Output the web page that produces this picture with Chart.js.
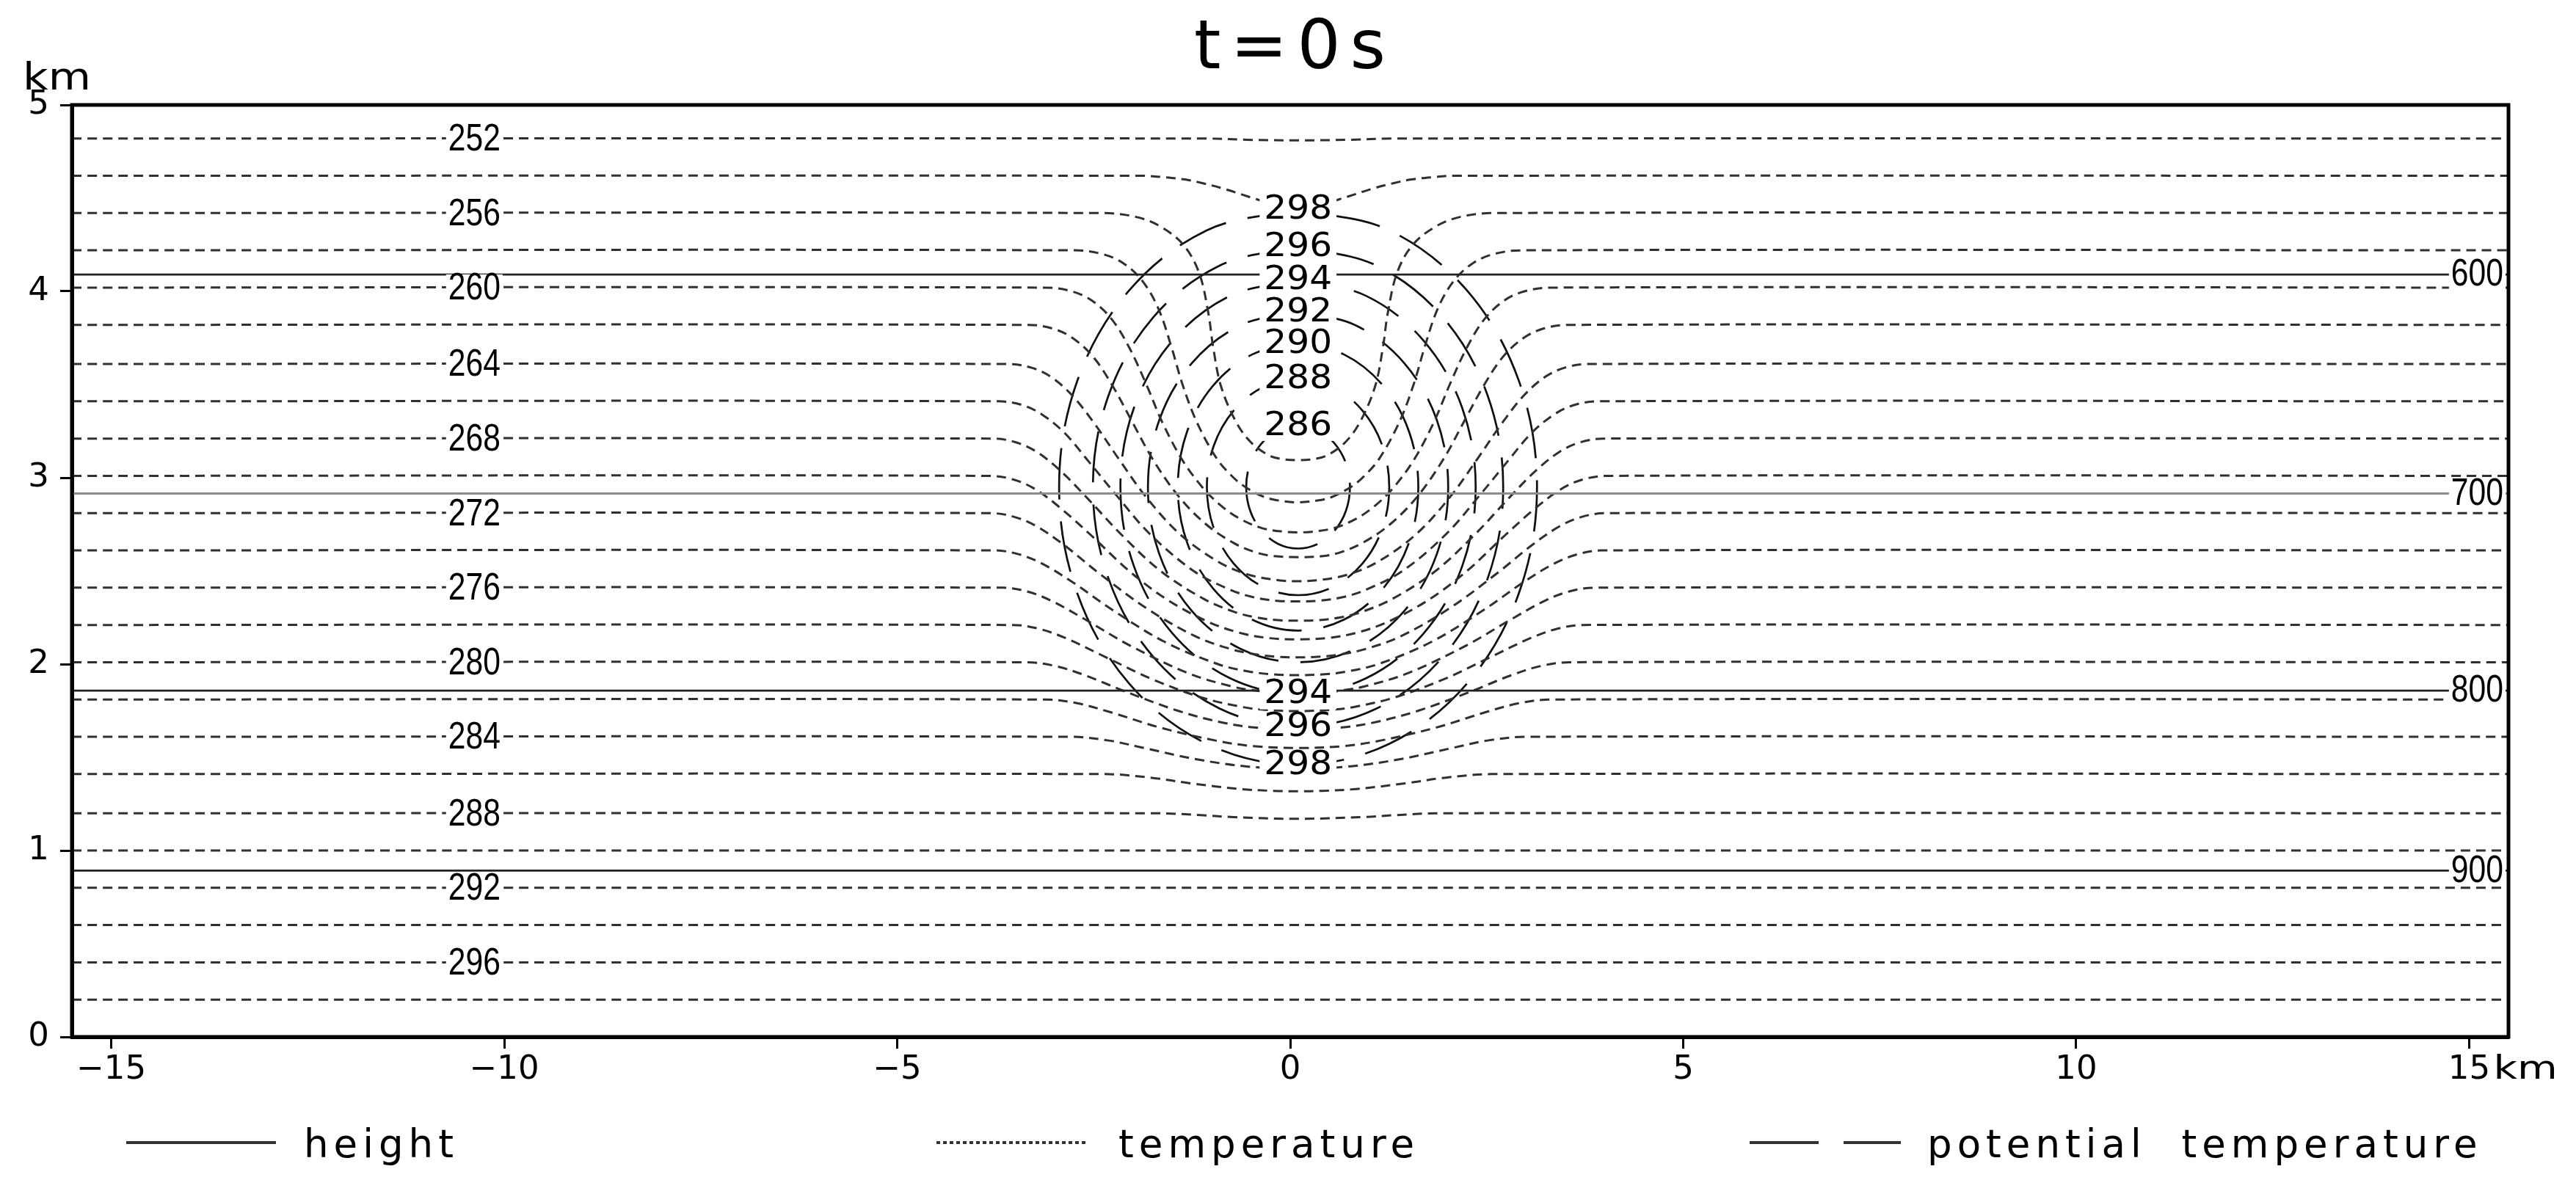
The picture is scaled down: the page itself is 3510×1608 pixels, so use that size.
<!DOCTYPE html>
<html><head><meta charset="utf-8">
<script src="https://cdn.jsdelivr.net/npm/chart.js@4.4.1/dist/chart.umd.min.js"></script>
<style>html,body{margin:0;padding:0;background:#fff;}canvas{display:block;}</style>
</head><body>
<canvas id="c" width="3510" height="1608" style="width:3510px;height:1608px"></canvas>
<script>
// ================= DATA =================
const titleText = 't=0s';
const xTickValues = [-15, -10, -5, 0, 5, 10, 15];
const yTickValues = [0, 1, 2, 3, 4, 5];

// pressure ("height") lines, hPa and height in km
const heightLevels = [600, 700, 800, 900];
const heightZ = [4.09, 2.915, 1.858, 0.892];

// temperature isotherms (K) and their undisturbed height (km)
const tempLevels = [298, 296, 294, 292, 290, 288, 286, 284, 282, 280, 278, 276, 274, 272, 270, 268, 266, 264, 262, 260, 258, 256, 254, 252];
const tempFarZ   = [0.20, 0.40, 0.60, 0.80, 1.00, 1.20, 1.41, 1.61, 1.81, 2.01, 2.21, 2.41, 2.61, 2.81, 3.01, 3.21, 3.41, 3.61, 3.82, 4.02, 4.22, 4.42, 4.62, 4.82];
const tempLabelLevels = [252, 256, 260, 264, 268, 272, 276, 280, 284, 288, 292, 296];

// horizontal position (km) of the axis of the cold bubble
const bubbleCenterX = 0.1;

// left half of each disturbed isotherm: [offset from bubble axis (km), height (km)]
const T252 = [[-1.20,4.82],[-0.65,4.813],[0,4.81]];
const T254 = [[-1.98,4.62],[-1.70,4.612],[-1.44,4.6],[-1.21,4.58],[-0.94,4.55],[-0.72,4.52],[-0.57,4.5],[-0.40,4.48],[0,4.467]];
const T256 = [[-2.48,4.42],[-2.07,4.4],[-1.76,4.35],[-1.46,4.25],[-1.26,4.1],[-1.14,3.88],[-1.08,3.7],[-0.98,3.49],[-0.79,3.3],[-0.6,3.19],[-0.37,3.12],[-0.2,3.1],[0,3.094]];
const T258 = [[-2.84,4.22],[-2.49,4.2],[-2.22,4.15],[-1.97,4.05],[-1.77,3.9],[-1.61,3.7],[-1.47,3.5],[-1.29,3.3],[-1.03,3.1],[-0.82,3.0],[-0.67,2.95],[-0.45,2.9],[-0.28,2.88],[0,2.868]];
const T260 = [[-3.21,4.02],[-2.88,4.0],[-2.62,3.95],[-2.37,3.85],[-2.15,3.7],[-1.93,3.5],[-1.73,3.3],[-1.48,3.1],[-1.22,2.95],[-0.98,2.85],[-0.74,2.78],[-0.46,2.73],[-0.17,2.71],[0,2.707]];
const T262 = [[-3.43,3.82],[-3.12,3.8],[-2.87,3.75],[-2.61,3.65],[-2.37,3.5],[-2.11,3.3],[-1.85,3.1],[-1.52,2.9],[-1.17,2.75],[-0.82,2.65],[-0.54,2.6],[-0.32,2.58],[0,2.574]];
const T264 = [[-3.69,3.61],[-3.39,3.59],[-3.14,3.54],[-2.87,3.44],[-2.59,3.29],[-2.28,3.1],[-1.94,2.9],[-1.51,2.7],[-1.02,2.55],[-0.63,2.48],[-0.25,2.45],[0,2.445]];
const T266 = [[-3.81,3.41],[-3.51,3.39],[-3.26,3.34],[-2.97,3.24],[-2.67,3.09],[-2.30,2.9],[-1.89,2.7],[-1.33,2.5],[-0.87,2.4],[-0.58,2.36],[-0.27,2.34],[0,2.337]];
const T268 = [[-3.88,3.21],[-3.59,3.19],[-3.33,3.14],[-3.03,3.04],[-2.68,2.89],[-2.26,2.7],[-1.75,2.5],[-1.20,2.35],[-0.81,2.28],[-0.53,2.25],[-0.23,2.235],[0,2.233]];
const T270 = [[-3.92,3.01],[-3.62,2.99],[-3.35,2.94],[-3.03,2.84],[-2.63,2.69],[-2.15,2.5],[-1.68,2.35],[-1.16,2.23],[-0.76,2.17],[-0.38,2.14],[0,2.133]];
const T272 = [[-3.91,2.81],[-3.61,2.79],[-3.33,2.74],[-2.98,2.64],[-2.54,2.49],[-1.93,2.3],[-1.31,2.15],[-0.85,2.08],[-0.51,2.05],[-0.28,2.04],[0,2.036]];
const T274 = [[-3.86,2.61],[-3.56,2.59],[-3.26,2.54],[-2.87,2.44],[-2.36,2.29],[-1.70,2.12],[-1.02,2.0],[-0.62,1.96],[-0.31,1.945],[0,1.941]];
const T276 = [[-3.77,2.41],[-3.45,2.39],[-3.14,2.34],[-2.71,2.24],[-2.14,2.1],[-1.39,1.95],[-0.84,1.88],[-0.58,1.86],[-0.36,1.85],[0,1.845]];
const T278 = [[-3.63,2.21],[-3.30,2.19],[-2.96,2.14],[-2.46,2.04],[-1.86,1.92],[-1.22,1.82],[-0.71,1.77],[-0.43,1.755],[0,1.748]];
const T280 = [[-3.45,2.01],[-3.09,1.99],[-2.71,1.94],[-2.18,1.85],[-1.53,1.75],[-1.00,1.69],[-0.56,1.66],[0,1.65]];
const T282 = [[-3.21,1.81],[-2.81,1.79],[-2.37,1.74],[-1.76,1.66],[-1.05,1.59],[-0.57,1.56],[0,1.55]];
const T284 = [[-2.89,1.61],[-2.41,1.59],[-1.96,1.55],[-1.30,1.49],[-0.63,1.45],[0,1.44]];
const T286 = [[-2.46,1.41],[-1.86,1.39],[-1.36,1.36],[-0.74,1.33],[-0.31,1.32],[0,1.318]];
const T288 = [[-1.82,1.2],[-1.24,1.19],[-0.86,1.18],[0,1.17]];

// potential temperature contours (K): left half, from the top (axis) round to the bottom (axis)
const thetaLevels = [298, 296, 294, 292, 290, 288, 286];
const TH298 = [[0,4.44],[-1.163,4.327],[-2.150,4.004],[-2.809,3.52],[-3.04,2.95],[-2.809,2.38],[-2.150,1.896],[-1.163,1.573],[0,1.46]];
const TH296 = [[0,4.24],[-0.999,4.138],[-1.846,3.859],[-2.411,3.442],[-2.61,2.95],[-2.411,2.458],[-1.846,2.041],[-0.999,1.762],[0,1.665]];
const TH294 = [[0,4.06],[-0.865,3.976],[-1.598,3.735],[-2.088,3.375],[-2.26,2.95],[-2.088,2.525],[-1.598,2.165],[-0.865,1.924],[0,1.84]];
const TH292 = [[0,3.89],[-0.731,3.818],[-1.351,3.615],[-1.765,3.31],[-1.91,2.95],[-1.765,2.59],[-1.351,2.285],[-0.731,2.082],[0,2.01]];
const TH290 = [[0,3.72],[-0.586,3.661],[-1.082,3.494],[-1.414,3.245],[-1.53,2.95],[-1.414,2.655],[-1.082,2.406],[-0.586,2.239],[0,2.18]];
const TH288 = [[0,3.53],[-0.444,3.486],[-0.820,3.36],[-1.072,3.172],[-1.16,2.95],[-1.072,2.728],[-0.820,2.54],[-0.444,2.414],[0,2.37]];
const TH286 = [[0,3.28],[-0.253,3.255],[-0.467,3.183],[-0.610,3.076],[-0.66,2.95],[-0.610,2.824],[-0.467,2.717],[-0.253,2.645],[0,2.62]];
const thetaBottomLabelLevels = [298, 296, 294];

const legendLabels = ['height', 'temperature', 'potential  temperature'];

// ================= BUILD =================
const X_MIN = -15.5, X_MAX = 15.5;
const tempHalves = {252:T252,254:T254,256:T256,258:T258,260:T260,262:T262,264:T264,266:T266,268:T268,
  270:T270,272:T272,274:T274,276:T276,278:T278,280:T280,282:T282,284:T284,286:T286,288:T288};
const thetaHalves = {298:TH298,296:TH296,294:TH294,292:TH292,290:TH290,288:TH288,286:TH286};
const xc = bubbleCenterX;

function openPath(half, z0) {
  const pts = [[X_MIN, z0]];
  if (half) {
    half.forEach(p => pts.push([xc + p[0], p[1]]));
    half.slice(0, -1).reverse().forEach(p => pts.push([xc - p[0], p[1]]));
  }
  pts.push([X_MAX, z0]);
  return pts.map(p => ({x: p[0], y: p[1]}));
}
function closedPath(half) {
  const pts = half.map(p => [xc + p[0], p[1]]);
  half.slice(0, -1).reverse().forEach(p => pts.push([xc - p[0], p[1]]));
  return pts.map(p => ({x: p[0], y: p[1]}));
}

const datasets = [];
heightLevels.forEach((lv, i) => {
  datasets.push({label: 'h' + lv, data: openPath(null, heightZ[i]), showLine: true, pointRadius: 0,
    borderColor: lv === 700 ? '#8c8c8c' : '#222', borderWidth: lv === 700 ? 3 : 2.8, tension: 0});
});
tempLevels.forEach((lv, i) => {
  datasets.push({label: 'T' + lv, data: openPath(tempHalves[lv], tempFarZ[i]), showLine: true, pointRadius: 0,
    borderColor: '#303030', borderWidth: 3, borderDash: [13, 8], tension: 0.35});
});
thetaLevels.forEach(lv => {
  datasets.push({label: 'th' + lv, data: closedPath(thetaHalves[lv]), showLine: true, pointRadius: 0,
    borderColor: '#101010', borderWidth: 2.7, borderDash: [70, 30], tension: 0.35});
});

function drawText(ctx, s, x, y, o) {
  ctx.save();
  ctx.font = o.font; ctx.fillStyle = o.color || '#000';
  ctx.textAlign = o.align || 'center'; ctx.textBaseline = o.baseline || 'middle';
  if ('letterSpacing' in ctx) ctx.letterSpacing = (o.spacing || 0) + 'px';
  ctx.translate(x, y); ctx.scale(o.sx || 1, 1);
  ctx.fillText(s, 0, 0);
  ctx.restore();
}
function boxedLabel(ctx, s, px, py, font, sx, h, align, pad) {
  pad = pad || 3;
  ctx.save();
  ctx.font = font;
  const w = ctx.measureText(s).width * sx;
  const left = align === 'right' ? px - w : px - w / 2;
  ctx.fillStyle = '#fff';
  ctx.fillRect(left - pad, py - h / 2, w + 2 * pad, h);
  ctx.restore();
  drawText(ctx, s, px, py, {font, sx, align: align || 'center'});
}

const overlay = {
  id: 'overlay',
  afterDraw(chart) {
    const ctx = chart.ctx, xs = chart.scales.x, ys = chart.scales.y, a = chart.chartArea;
    // temperature labels (left)
    tempLabelLevels.forEach(lv => {
      const z = tempFarZ[tempLevels.indexOf(lv)];
      boxedLabel(ctx, String(lv), xs.getPixelForValue(-10.38), ys.getPixelForValue(z) + 2, '52px "Liberation Sans"', 0.82, 40);
    });
    // height labels (right)
    heightLevels.forEach((lv, i) => {
      boxedLabel(ctx, String(lv), a.right - 7, ys.getPixelForValue(heightZ[i]) + 1, '52px "Liberation Sans"', 0.82, 40, 'right');
    });
    // potential temperature labels
    thetaLevels.forEach(lv => {
      const h = thetaHalves[lv];
      boxedLabel(ctx, String(lv), xs.getPixelForValue(xc + h[0][0]), ys.getPixelForValue(h[0][1]) + 1, '45px "DejaVu Sans"', 1.08, 40, 'center', 6);
      if (thetaBottomLabelLevels.includes(lv)) {
        const b = h[h.length - 1];
        boxedLabel(ctx, String(lv), xs.getPixelForValue(xc + b[0]), ys.getPixelForValue(b[1]) + 1, '45px "DejaVu Sans"', 1.08, 40, 'center', 6);
      }
    });
    // frame
    ctx.save();
    ctx.strokeStyle = '#000'; ctx.lineWidth = 5;
    ctx.strokeRect(a.left, a.top, a.right - a.left, a.bottom - a.top);
    ctx.restore();
    // title
    drawText(ctx, titleText, xs.getPixelForValue(0) + 6, 93, {font: '93px "DejaVu Sans"', baseline: 'alphabetic', spacing: 13});
    // axis unit texts
    drawText(ctx, 'km', 31, 122, {font: '52px "DejaVu Sans"', align: 'left', baseline: 'alphabetic', sx: 1.15});
    drawText(ctx, 'km', xs.getPixelForValue(15) + 33, 1470, {font: '45px "DejaVu Sans"', align: 'left', baseline: 'alphabetic', sx: 1.25});
    // legend
    const ly = 1557;
    ctx.save();
    ctx.strokeStyle = '#333'; ctx.lineWidth = 4;
    ctx.beginPath(); ctx.moveTo(172, ly); ctx.lineTo(376, ly); ctx.stroke();
    ctx.setLineDash([5, 4]);
    ctx.beginPath(); ctx.moveTo(1276, ly); ctx.lineTo(1482, ly); ctx.stroke();
    ctx.setLineDash([94, 34]);
    ctx.beginPath(); ctx.moveTo(2384, ly); ctx.lineTo(2590, ly); ctx.stroke();
    ctx.restore();
    const lf = {font: '53px "DejaVu Sans"', align: 'left', baseline: 'alphabetic', spacing: 7};
    drawText(ctx, legendLabels[0], 414, 1577, lf);
    drawText(ctx, legendLabels[1], 1524, 1577, lf);
    drawText(ctx, legendLabels[2], 2626, 1577, lf);
  }
};

new Chart(document.getElementById('c'), {
  type: 'scatter',
  data: {datasets},
  options: {
    responsive: false, animation: false, devicePixelRatio: 1, events: [],
    layout: {padding: {left: 0, right: 92, top: 143, bottom: 0}},
    plugins: {legend: {display: false}, tooltip: {enabled: false}, title: {display: false}},
    scales: {
      x: {
        type: 'linear', min: X_MIN, max: X_MAX,
        afterBuildTicks: s => { s.ticks = xTickValues.map(v => ({value: v})); },
        afterFit: s => { s.height = 195; },
        ticks: {autoSkip: false, maxRotation: 0, minRotation: 0, padding: 2, color: '#000',
          font: {family: 'DejaVu Sans', size: 45},
          callback: v => (v < 0 ? '\u2212' + Math.abs(v) : String(v))},
        grid: {display: true, drawOnChartArea: false, drawTicks: true, tickLength: 16, tickWidth: 3, tickColor: '#000'},
        border: {display: true, width: 5, color: '#000'}
      },
      y: {
        type: 'linear', min: 0, max: 5,
        afterBuildTicks: s => { s.ticks = yTickValues.map(v => ({value: v})); },
        afterFit: s => { s.width = 98; },
        ticks: {padding: 15, color: '#000', font: {family: 'DejaVu Sans', size: 45}, callback: v => String(v)},
        grid: {display: true, drawOnChartArea: false, drawTicks: true, tickLength: 16, tickWidth: 3, tickColor: '#000'},
        border: {display: true, width: 5, color: '#000'}
      }
    }
  },
  plugins: [overlay]
});
</script>
</body></html>
